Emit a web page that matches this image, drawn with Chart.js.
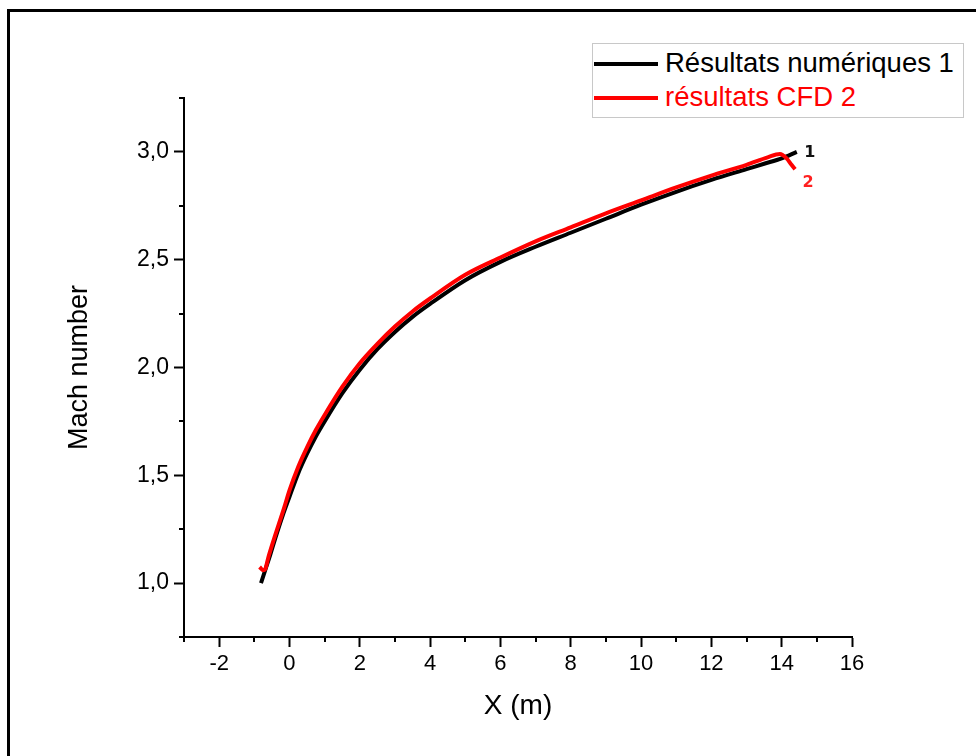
<!DOCTYPE html>
<html>
<head>
<meta charset="utf-8">
<script src="https://cdn.jsdelivr.net/npm/chart.js@4.4.0/dist/chart.umd.min.js"></script>
<style>
    body { margin: 0; background: #fff; }
    #wrap { position: relative; width: 976px; height: 756px; overflow: hidden; }
    #frame { position: absolute; left: 7px; top: 9px; width: 1100px; height: 900px; border: 3px solid #000; }
    #graph { position: absolute; left: 0; top: 0; }
    #legend { position: absolute; left: 592px; top: 43px; width: 370px; height: 73px; border: 1px solid #c8c8c8; background: #fff;
        font-family: "Liberation Sans", Arial, sans-serif; font-size: 27.5px; }
    .row { position: absolute; left: 0; height: 30px; }
    .row span.line { position: absolute; left: 1px; top: 13px; width: 64px; height: 4px; }
    .row span.txt { position: absolute; left: 72px; top: -1px; white-space: nowrap; line-height: 30px; }
</style>
</head>
<body>
<div id="wrap">
    <div id="frame"></div>
    <canvas id="graph" width="976" height="756"></canvas>
    <div id="legend"></div>
</div>
<script>
var seriesNames = ["Résultats numériques 1", "résultats CFD 2"];
var seriesColors = ["#000000", "#ff0000"];

// black curve (numerical results)
var xNum = [-0.81, -0.69, -0.55, -0.4, -0.2, 0, 0.25, 0.5, 0.75, 1, 1.5, 2, 2.5, 3, 3.5, 4, 5, 6, 7, 8, 9, 10, 11, 12, 13, 13.5, 14, 14.43];
var yNum = [1.00, 1.06, 1.13, 1.21, 1.31, 1.40, 1.51, 1.60, 1.68, 1.75, 1.88, 1.99, 2.085, 2.165, 2.235, 2.295, 2.405, 2.49, 2.56, 2.625, 2.69, 2.755, 2.815, 2.87, 2.92, 2.945, 2.97, 3.00];

// red curve (CFD)
var xCfd = [-0.85, -0.75, -0.69, -0.6, -0.45, -0.31, -0.15, 0, 0.25, 0.5, 0.75, 1, 1.5, 2, 2.5, 3, 3.5, 4, 5, 6, 7, 8, 9, 10, 11, 12, 13, 13.6, 13.95, 14.14, 14.28, 14.38];
var yCfd = [1.075, 1.06, 1.065, 1.12, 1.20, 1.27, 1.35, 1.43, 1.54, 1.63, 1.71, 1.78, 1.91, 2.02, 2.11, 2.19, 2.26, 2.32, 2.43, 2.51, 2.585, 2.65, 2.715, 2.775, 2.835, 2.89, 2.94, 2.975, 2.99, 2.97, 2.94, 2.92];

var xTicks = [-2, 0, 2, 4, 6, 8, 10, 12, 14, 16];
var xMinor = [-3, -1, 1, 3, 5, 7, 9, 11, 13, 15];
var yTicks = [1.0, 1.5, 2.0, 2.5, 3.0];
var yMinor = [0.75, 1.25, 1.75, 2.25, 2.75, 3.25];

// curve tags near the end
var tagText = ["1", "2"];
var tagX = [14.8, 14.75];
var tagY = [2.996, 2.857];

function toPoints(xs, ys) {
    return xs.map(function(x, i) { return { x: x, y: ys[i] }; });
}

var FONT = '"Liberation Sans", Arial, sans-serif';

var extras = {
    id: 'extras',
    afterDraw: function(chart) {
        var ctx = chart.ctx;
        var xs = chart.scales.x, ys = chart.scales.y;
        var area = chart.chartArea;
        ctx.save();
        ctx.strokeStyle = '#000';
        ctx.lineWidth = 2;
        ctx.beginPath();
        xMinor.forEach(function(v) {
            var px = Math.round(xs.getPixelForValue(v));
            ctx.moveTo(px, area.bottom);
            ctx.lineTo(px, area.bottom + 5);
        });
        yMinor.forEach(function(v) {
            var py = Math.round(ys.getPixelForValue(v));
            ctx.moveTo(area.left, py);
            ctx.lineTo(area.left - 5, py);
        });
        ctx.stroke();

        ctx.font = 'bold 16px "DejaVu Sans", sans-serif';
        ctx.textAlign = 'center';
        ctx.textBaseline = 'middle';
        tagText.forEach(function(t, i) {
            ctx.fillStyle = i === 1 ? '#ff2020' : '#111';
            ctx.fillText(t, xs.getPixelForValue(tagX[i]), ys.getPixelForValue(tagY[i]));
        });
        ctx.restore();
    }
};

var ctx = document.getElementById("graph");

var myChart = new Chart(ctx, {
    type: 'line',
    data: {
        datasets: [{
            label: seriesNames[0],
            data: toPoints(xNum, yNum),
            borderColor: seriesColors[0],
            backgroundColor: seriesColors[0],
            borderWidth: 4,
            pointRadius: 0,
            fill: false,
            cubicInterpolationMode: 'monotone',
            order: 2
        },
        {
            label: seriesNames[1],
            data: toPoints(xCfd, yCfd),
            borderColor: seriesColors[1],
            backgroundColor: seriesColors[1],
            borderWidth: 4,
            pointRadius: 0,
            fill: false,
            cubicInterpolationMode: 'monotone',
            order: 1
        }]
    },
    options: {
        responsive: false,
        animation: false,
        devicePixelRatio: 1,
        layout: { padding: { top: 98, right: 124, bottom: 0, left: 0 } },
        plugins: {
            legend: { display: false },
            tooltip: { enabled: false }
        },
        scales: {
            x: {
                type: 'linear',
                min: -3,
                max: 16,
                afterBuildTicks: function(scale) {
                    scale.ticks = xTicks.map(function(v) { return { value: v }; });
                },
                afterFit: function(scale) { scale.height = 119; },
                border: { display: true, color: '#000', width: 2 },
                grid: { display: true, drawOnChartArea: false, drawTicks: true, tickLength: 10, tickColor: '#000', tickWidth: 2 },
                ticks: {
                    color: '#000',
                    padding: 4,
                    maxRotation: 0,
                    font: { family: FONT, size: 22 },
                    callback: function(v) { return String(v); }
                },
                title: {
                    display: true,
                    text: 'X (m)',
                    color: '#000',
                    font: { family: FONT, size: 28 },
                    padding: { top: 0, bottom: 33 }
                }
            },
            y: {
                type: 'linear',
                min: 0.75,
                max: 3.25,
                afterBuildTicks: function(scale) {
                    scale.ticks = yTicks.map(function(v) { return { value: v }; });
                },
                afterFit: function(scale) { scale.width = 184; },
                border: { display: true, color: '#000', width: 2 },
                grid: { display: true, drawOnChartArea: false, drawTicks: true, tickLength: 10, tickColor: '#000', tickWidth: 2 },
                ticks: {
                    color: '#000',
                    padding: 5,
                    font: { family: FONT, size: 23 },
                    callback: function(v) { return v.toFixed(1).replace('.', ','); }
                },
                title: {
                    display: true,
                    text: 'Mach number',
                    color: '#000',
                    font: { family: FONT, size: 27 },
                    padding: { top: 63, bottom: 0 }
                }
            }
        }
    },
    plugins: [extras]
});

// legend box built from the datasets
var legendBox = document.getElementById('legend');
myChart.data.datasets.forEach(function(ds, i) {
    var row = document.createElement('div');
    row.className = 'row';
    row.style.top = (5 + i * 34) + 'px';
    row.innerHTML = '<span class="line" style="background:' + ds.borderColor + '"></span>' +
        '<span class="txt" style="color:' + ds.borderColor + '">' + ds.label + '</span>';
    legendBox.appendChild(row);
});
</script>
</body>
</html>
